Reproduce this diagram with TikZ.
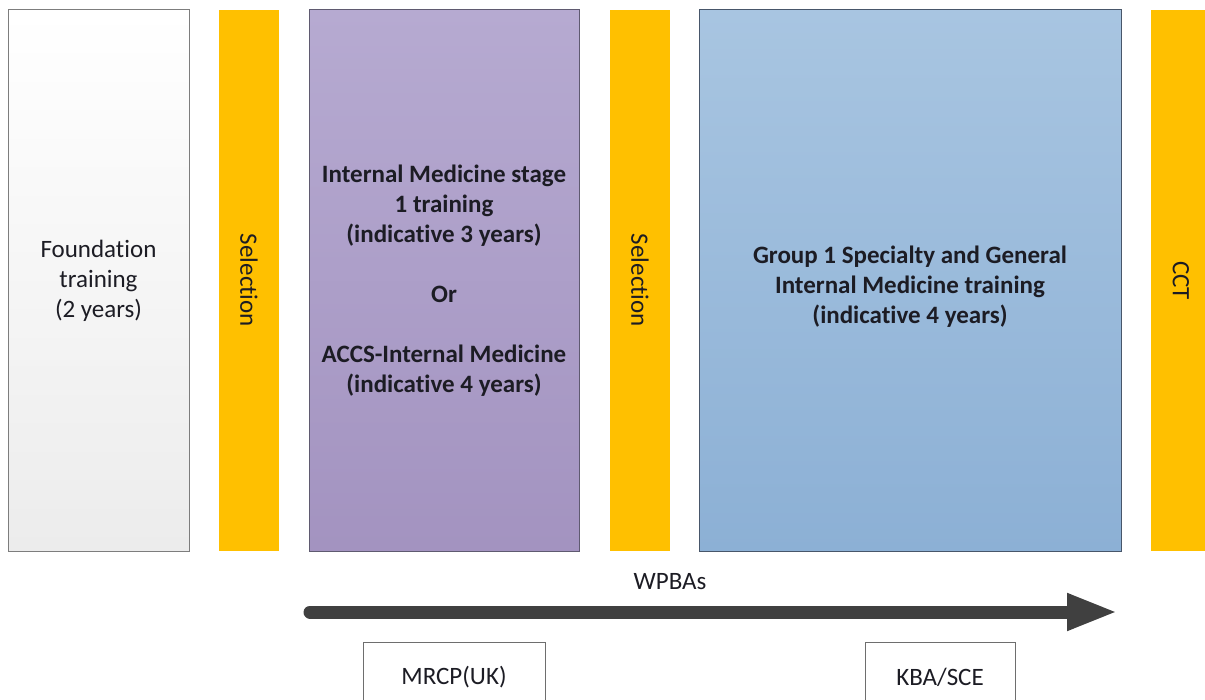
\documentclass[tikz,border=0pt]{standalone}
\usepackage{fontspec}
\setmainfont{Carlito}[Ligatures=NoCommon]
\usepackage{tikz}
\usetikzlibrary{shapes,shapes.misc,arrows.meta}
\definecolor{selorange}{RGB}{255,192,0}
\definecolor{textdark}{RGB}{28,28,36}
\definecolor{foundgray}{RGB}{236,236,236}
\definecolor{foundline}{RGB}{125,125,125}
\definecolor{purpletop}{RGB}{182,170,209}
\definecolor{purplebot}{RGB}{163,147,192}
\definecolor{purpleline}{RGB}{95,90,112}
\definecolor{bluetop}{RGB}{168,197,225}
\definecolor{bluebot}{RGB}{140,176,213}
\definecolor{blueline}{RGB}{72,86,106}
\definecolor{arrowgray}{RGB}{64,64,64}
\definecolor{examline}{RGB}{110,110,110}

\begin{document}
\begin{tikzpicture}[x=1pt,y=-1pt,
  every node/.append style={font=\fontsize{25}{30}\selectfont,text=textdark},
  stage/.style={rectangle,draw,line width=1pt,minimum height=541pt,align=center,inner sep=0pt},
  gate/.style={rectangle,fill=selorange,minimum width=541pt,minimum height=60pt,rotate=-90,inner sep=0pt},
  exam/.style={rectangle,draw=examline,fill=white,line width=1pt,minimum height=70pt,anchor=north},
  wpba/.style={draw=arrowgray,line width=13pt,line cap=round,-{Triangle[length=51pt,width=34pt]}}]
  \tikzstyle{bold} = [font=\fontsize{25}{30}\selectfont\bfseries]
  \useasboundingbox (0,0) rectangle (1205,700);
  \node (1_1) [stage,draw=foundline,top color=white,bottom color=foundgray,minimum width=181pt] at (98.5,280.5) {Foundation\\training\\(2 years)};
  \node (1_2) [gate] at (249,280.5) {Selection};
  \node (1_3) [stage,bold,draw=purpleline,top color=purpletop,bottom color=purplebot,minimum width=270pt] at (444,280.5)
    {Internal Medicine stage\\1 training\\(indicative 3 years)\\[30pt]Or\\[30pt]ACCS-Internal Medicine\\(indicative 4 years)};
  \node (1_4) [gate] at (640,280.5) {Selection};
  \node (1_5) [stage,bold,draw=blueline,top color=bluetop,bottom color=bluebot,minimum width=422pt,text height=90pt] at (910,280.5)
    {Group 1 Specialty and General\\Internal Medicine training\\(indicative 4 years)};
  \node (1_6) [gate] at (1181,280.5) {CCT};
  \coordinate (2_1) at (310,612);
  \coordinate (2_2) at (1118,612);
  \draw[wpba] (2_1) -- (2_2);
  \node (2_3) at (670,582) {WPBAs};
  \node (3_1) [exam,minimum width=182pt] at (454,642) {MRCP(UK)};
  \node (3_2) [exam,minimum width=150pt] at (940,642) {KBA/SCE};
\end{tikzpicture}
\end{document}
